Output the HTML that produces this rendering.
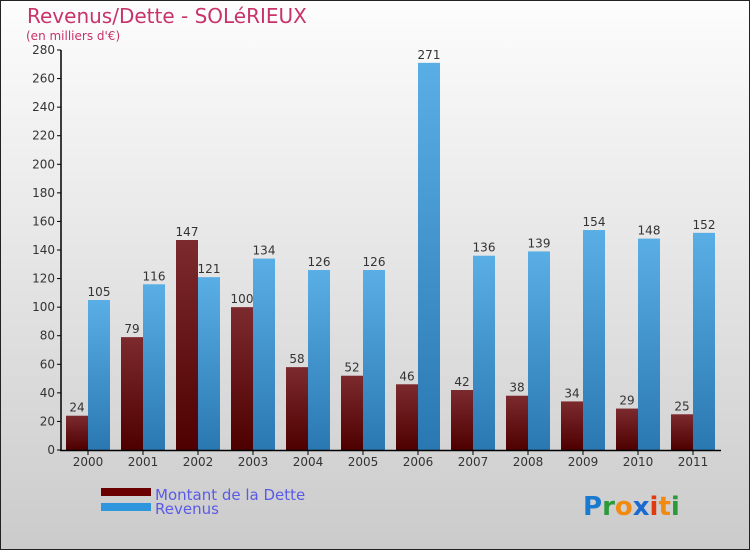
<!DOCTYPE html>
<html><head><meta charset="utf-8"><style>
body{margin:0;width:750px;height:550px;overflow:hidden}
svg{display:block;font-family:"DejaVu Sans","Liberation Sans",sans-serif}
</style></head><body>
<svg id="c" width="750" height="550" xmlns="http://www.w3.org/2000/svg">
<defs>
<linearGradient id="bg" x1="0" y1="0" x2="0" y2="1"><stop offset="0" stop-color="#fdfdfd"/><stop offset="1" stop-color="#cbcbcb"/></linearGradient>
<linearGradient id="gd" x1="0" y1="0" x2="0" y2="1"><stop offset="0" stop-color="#7c2a2e"/><stop offset="1" stop-color="#4e0000"/></linearGradient>
<linearGradient id="gr" x1="0" y1="0" x2="0" y2="1"><stop offset="0" stop-color="#5aaee6"/><stop offset="1" stop-color="#2a78b2"/></linearGradient>
</defs>
<rect x="0.5" y="0.5" width="749" height="549" fill="url(#bg)" stroke="#222"/>
<text x="27" y="23" font-size="20" fill="#c8336a">Revenus/Dette - SOLéRIEUX</text>
<text x="26" y="40" font-size="12" fill="#c8336a">(en milliers d'€)</text>
<g id="plot"></g>
<rect x="101" y="488" width="50" height="8" fill="#6b0000"/>
<rect x="101" y="503" width="50" height="8" fill="#2f96dd"/>
<text x="155" y="500" font-size="15" fill="#5a5ae8">Montant de la Dette</text>
<text x="155" y="514" font-size="15" fill="#5a5ae8">Revenus</text>
<text x="583" y="515" font-size="26" font-weight="bold"><tspan fill="#1a7ad0">P</tspan><tspan fill="#2a9a3a">r</tspan><tspan fill="#f08a10">o</tspan><tspan fill="#1a6ad0">x</tspan><tspan fill="#e03a10">i</tspan><tspan fill="#f08a10">t</tspan><tspan fill="#2a9a3a">i</tspan></text>
</svg>
<script>
const years=["2000","2001","2002","2003","2004","2005","2006","2007","2008","2009","2010","2011"];
const dette=[24,79,147,100,58,52,46,42,38,34,29,25];
const revenus=[105,116,121,134,126,126,271,136,139,154,148,152];
const yTicks=[0,20,40,60,80,100,120,140,160,180,200,220,240,260,280];
const NS="http://www.w3.org/2000/svg";
const g=document.getElementById('plot');
const y0=450,yMax=280,ph=400;
const yS=v=>y0-v*ph/yMax;
const xC=i=>88+55*i;
function mk(t,a){const e=document.createElementNS(NS,t);for(const k in a)e.setAttribute(k,a[k]);g.appendChild(e);return e;}
yTicks.forEach(v=>{
 const t=mk('line',{x1:57,x2:61,y1:yS(v),y2:yS(v),stroke:'#000'});
 
 
 const l=mk('text',{x:55,y:yS(v)+4,'text-anchor':'end','font-size':12,fill:'#333'});
 l.textContent=v;
 
 
});
years.forEach((yr,i)=>{
 const c=xC(i);
 const bd=mk('rect',{x:c-22,y:yS(dette[i]),width:22,height:dette[i]*ph/yMax,fill:'url(#gd)'});
 
 
 const br=mk('rect',{x:c,y:yS(revenus[i]),width:22,height:revenus[i]*ph/yMax,fill:'url(#gr)'});
 
 
 const ld=mk('text',{x:c-11,y:yS(dette[i])-4,'text-anchor':'middle','font-size':12,fill:'#333'});
 ld.textContent=dette[i];
 
 
 const lr=mk('text',{x:c+11,y:yS(revenus[i])-4,'text-anchor':'middle','font-size':12,fill:'#333'});
 lr.textContent=revenus[i];
 
 
 const tk=mk('line',{x1:c,x2:c,y1:450,y2:455,stroke:'#000'});
 
 
 const xl=mk('text',{x:c,y:466,'text-anchor':'middle','font-size':12,fill:'#333'});
 xl.textContent=yr;
 
 
});
const ya=mk('line',{x1:61,x2:61,y1:50,y2:451,stroke:'#000','stroke-width':1.5});


const xa=mk('line',{x1:60,x2:721,y1:450.5,y2:450.5,stroke:'#000','stroke-width':1.5});


</script>
</body></html>
